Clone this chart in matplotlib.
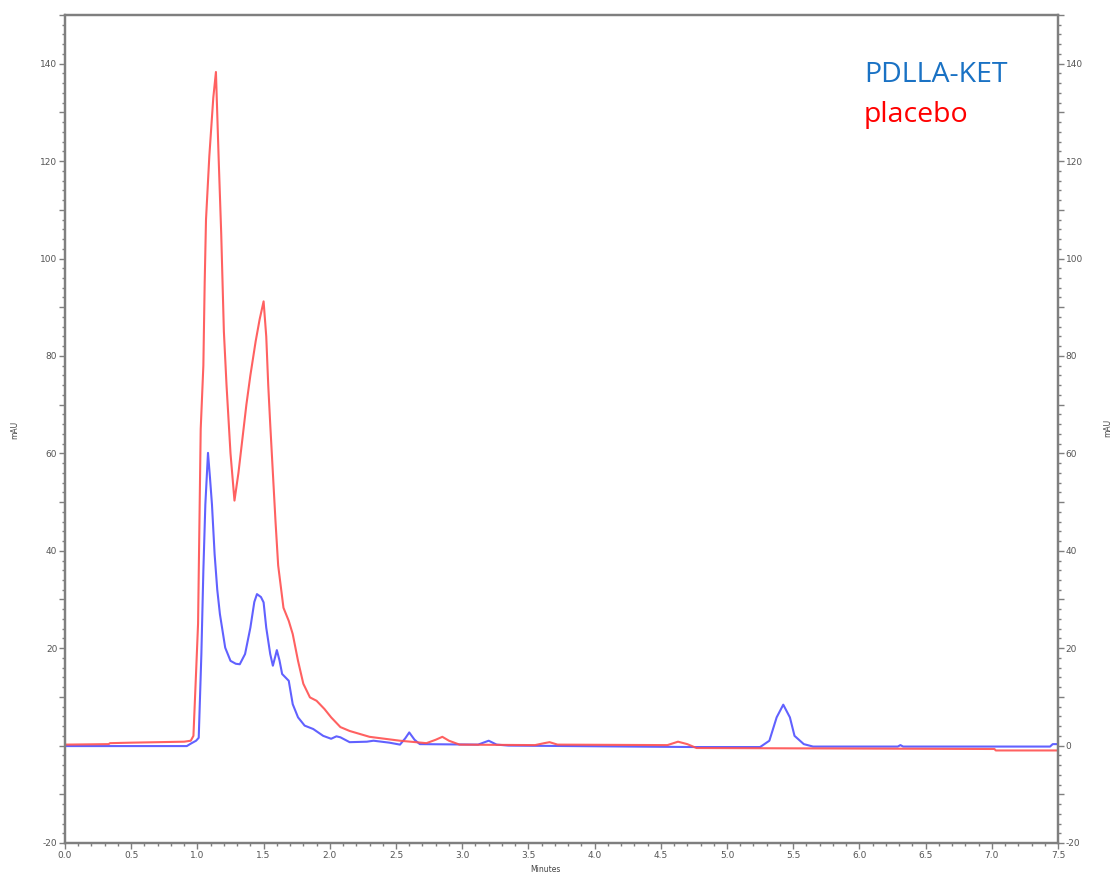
import matplotlib
matplotlib.use("Agg")
import matplotlib.pyplot as plt
from matplotlib.ticker import MultipleLocator, FuncFormatter

# ---- data ----
placebo_x = [0.0, 0.33, 0.34, 0.5, 0.9, 0.95, 0.97, 0.99, 1.005, 1.015, 1.025, 1.045,
             1.055, 1.065, 1.09, 1.12, 1.14, 1.16, 1.18, 1.20, 1.22, 1.25, 1.28, 1.31,
             1.34, 1.37, 1.40, 1.44, 1.47, 1.50, 1.52, 1.535, 1.55, 1.59, 1.61, 1.65,
             1.69, 1.72, 1.76, 1.80, 1.85, 1.90, 1.96, 2.01, 2.08, 2.15, 2.30, 2.53,
             2.73, 2.80, 2.85, 2.90, 2.98, 3.55, 3.62, 3.66, 3.72, 4.55, 4.63, 4.70,
             4.77, 7.02, 7.03, 7.5]
placebo_y = [0.2, 0.3, 0.5, 0.6, 0.8, 1.0, 2.0, 15.0, 25.0, 45.0, 65.0, 78.0,
             95.0, 108.0, 121.0, 133.0, 138.3, 121.0, 105.0, 85.0, 74.0, 60.0, 50.3, 56.0,
             63.0, 70.0, 76.0, 83.0, 87.5, 91.2, 84.0, 74.0, 66.0, 46.0, 37.0, 28.3,
             25.6, 22.9, 17.4, 12.7, 9.9, 9.2, 7.5, 5.8, 3.8, 3.0, 1.8, 1.0,
             0.5, 1.2, 1.8, 1.0, 0.2, 0.1, 0.5, 0.7, 0.2, 0.1, 0.8, 0.3,
             -0.5, -0.7, -1.0, -1.0]

ket_x = [0.0, 0.92, 0.95, 0.99, 1.01, 1.03, 1.045, 1.06, 1.08, 1.095, 1.11, 1.13,
         1.15, 1.17, 1.21, 1.25, 1.29, 1.32, 1.36, 1.40, 1.43, 1.45, 1.48, 1.50,
         1.52, 1.55, 1.57, 1.59, 1.60, 1.62, 1.64, 1.69, 1.72, 1.76, 1.81, 1.875,
         1.95, 2.01, 2.05, 2.08, 2.15, 2.28, 2.33, 2.45, 2.53, 2.57, 2.60, 2.64,
         2.68, 3.12, 3.20, 3.26, 3.35, 4.75, 5.25, 5.32, 5.375, 5.425, 5.475, 5.51,
         5.58, 5.65, 6.29, 6.31, 6.33, 7.44, 7.46, 7.5]
ket_y = [-0.1, -0.1, 0.4, 1.0, 1.6, 18.8, 35.9, 49.5, 60.1, 55.0, 49.5, 39.3,
         32.0, 27.0, 20.1, 17.4, 16.8, 16.7, 18.8, 24.2, 29.5, 31.1, 30.5, 29.4,
         24.2, 18.8, 16.4, 18.5, 19.6, 17.5, 14.7, 13.3, 8.5, 5.8, 4.1, 3.4,
         2.0, 1.4, 1.9, 1.7, 0.7, 0.8, 1.0, 0.6, 0.2, 1.5, 2.7, 1.2,
         0.3, 0.2, 1.0, 0.2, 0.0, -0.3, -0.3, 1.0, 5.8, 8.4, 5.8, 2.0,
         0.3, -0.2, -0.2, 0.1, -0.2, -0.2, 0.3, 0.3]

series_names = ["PDLLA-KET", "placebo"]

# ---- figure ----
fig = plt.figure(figsize=(11.13, 8.73), dpi=100)
ax = fig.add_axes([65/1113, 30/873, (1058-65)/1113, (843-15)/873])

ax.plot(ket_x, ket_y, color="#5050ff", lw=1.5, alpha=0.9)
ax.plot(placebo_x, placebo_y, color="#ff5050", lw=1.5, alpha=0.9)

ax.set_xlim(0, 7.5)
ax.set_ylim(-20, 150)

axr = ax.twinx()
axr.set_ylim(-20, 150)

gray = "#7f7f7f"
for a in (ax, axr):
    for s in a.spines.values():
        s.set_color(gray)
        s.set_linewidth(1.6)
    a.yaxis.set_major_locator(MultipleLocator(10))
    a.yaxis.set_minor_locator(MultipleLocator(2))
    a.tick_params(axis="both", which="major", direction="out", length=4, width=1,
                  color=gray, labelsize=6.5, labelcolor="#555555", pad=1.5)
    a.tick_params(axis="both", which="minor", direction="out", length=2.5, width=1,
                  color=gray)

ax.xaxis.set_major_locator(MultipleLocator(0.5))
ax.xaxis.set_minor_locator(MultipleLocator(0.1))
ax.xaxis.set_major_formatter(FuncFormatter(lambda v, p: f"{v:.1f}"))

def left_fmt(v, p):
    iv = int(round(v))
    if iv % 20 != 0 or iv == 0:
        return ""
    return str(iv)

def right_fmt(v, p):
    iv = int(round(v))
    if iv % 20 != 0:
        return ""
    return str(iv)

ax.yaxis.set_major_formatter(FuncFormatter(left_fmt))
axr.yaxis.set_major_formatter(FuncFormatter(right_fmt))

fig.text(545/1113, 1 - 870/873, "Minutes", fontsize=5.5, color="#444444",
         ha="center", va="center")
fig.text(15/1113, 1 - 430/873, "mAU", fontsize=5.5, color="#444444",
         rotation=90, ha="center", va="center")
fig.text(1108/1113, 1 - 428/873, "mAU", fontsize=5.5, color="#444444",
         rotation=90, ha="center", va="center")

fig.text(864/1113, 1 - 82/873, series_names[0],
         fontsize=20.5, color="#1a72c4", family=["Open Sans", "DejaVu Sans"],
         ha="left", va="baseline")
fig.text(864/1113, 1 - 122/873, series_names[1],
         fontsize=20.5, color="#ff0000", family=["Open Sans", "DejaVu Sans"],
         ha="left", va="baseline")

fig.savefig("out.png", dpi=100, facecolor="white")
